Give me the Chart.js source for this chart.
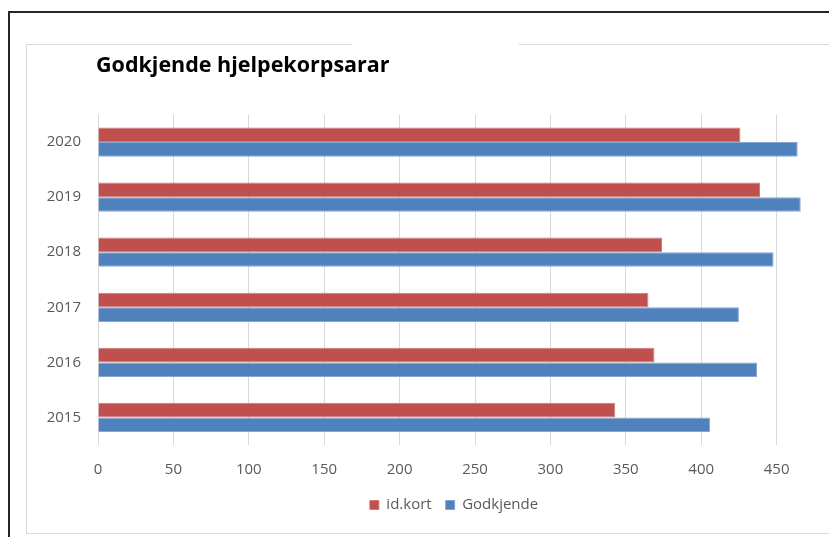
<!DOCTYPE html>
<html>
<head>
<meta charset="utf-8">
<script src="https://cdn.jsdelivr.net/npm/chart.js@4"></script>
<style>
  html, body { margin: 0; padding: 0; background: #fff; width: 829px; height: 537px; overflow: hidden; position: relative; }
  #frame { position: absolute; left: 8px; top: 11px; width: 900px; height: 600px; border-left: 2px solid #262626; border-top: 2px solid #262626; }
  #box { position: absolute; left: 26px; top: 44px; width: 854px; height: 488px; border: 1px solid #d9d9d9; }
  #gap { position: absolute; left: 352px; top: 43px; width: 167px; height: 3px; background: #fff; }
  #chart { position: absolute; left: 0; top: 0; }
</style>
</head>
<body>
<div id="frame"></div>
<div id="box"><canvas id="chart" width="854" height="488"></canvas></div>
<div id="gap"></div>
<script>
// years listed top to bottom as in the picture
const years = ['2020', '2019', '2018', '2017', '2016', '2015'];
const idKort = [426, 439, 374, 365, 369, 343];
const godkjende = [464, 466, 448, 425, 437, 406];
const xTicksMax = 500;
const titleText = 'Godkjende hjelpekorpsarar';

const colors = { red: '#c0504d', blue: '#4f81bd', grid: '#d9d9d9', text: '#595959' };

// draws the left-aligned title above the plot
const titlePlugin = {
    id: 'leftTitle',
    afterDraw(chart) {
        const c = chart.ctx;
        c.save();
        c.font = "bold 21.5px 'Open Sans', sans-serif";
        c.fillStyle = '#000';
        c.textAlign = 'left';
        c.textBaseline = 'alphabetic';
        c.fillText(titleText, 69, 27);
        c.restore();
    }
};

// the legend is centred on the whole box, not on the box minus the right padding
const legendShift = {
    id: 'legendShift',
    afterLayout(chart) {
        if (!chart.legend) return;
        chart.legend.left += 14.5;
        chart.legend.right += 14.5;
    }
};

new Chart(document.getElementById('chart'), {
    type: 'bar',
    data: {
        labels: years,
        datasets: [
            { label: 'id.kort', data: idKort, backgroundColor: colors.red, borderColor: '#cd7a78', borderWidth: 1 },
            { label: 'Godkjende', data: godkjende, backgroundColor: colors.blue, borderColor: '#86a6d0', borderWidth: 1 }
        ]
    },
    options: {
        responsive: false, animation: false, indexAxis: 'y',
        categoryPercentage: 0.53, barPercentage: 1,
        layout: { padding: { left: 0, right: 29, top: 69.5, bottom: 10.5 } },
        plugins: {
            title: { display: false },
            tooltip: { enabled: false },
            legend: {
                position: 'bottom',
                labels: { boxWidth: 9, boxHeight: 9, padding: 14, color: colors.text, font: { family: "'Open Sans', sans-serif", size: 15 } }
            }
        },
        scales: {
            x: {
                min: 0, max: xTicksMax,
                ticks: { stepSize: 50, padding: 16, color: colors.text, font: { family: "'Open Sans', sans-serif", size: 15 } },
                grid: { color: colors.grid, drawTicks: false },
                border: { display: false },
                afterFit(s) { s.height = 38.5; }
            },
            y: {
                ticks: { padding: 17, color: colors.text, font: { family: "'Open Sans', sans-serif", size: 15 } },
                grid: { display: false, drawTicks: false },
                border: { display: false },
                afterFit(s) { s.width = 71; }
            }
        }
    },
    plugins: [titlePlugin, legendShift]
});
</script>
</body>
</html>
